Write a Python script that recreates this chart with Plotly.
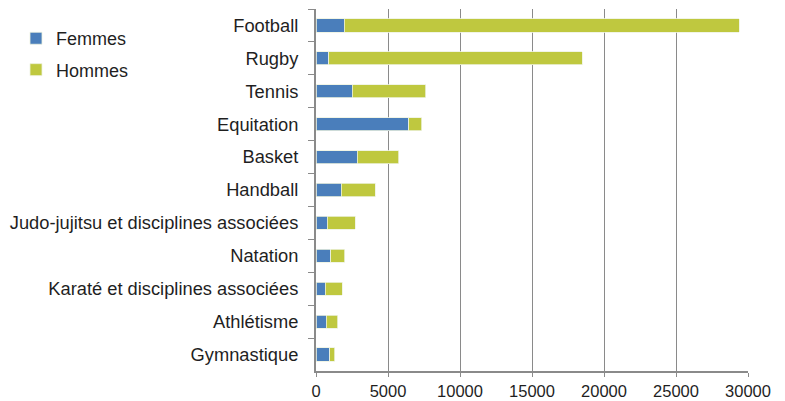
import plotly.graph_objects as go

sports = ["Football", "Rugby", "Tennis", "Equitation", "Basket", "Handball",
          "Judo-jujitsu et disciplines associées", "Natation",
          "Karaté et disciplines associées", "Athlétisme", "Gymnastique"]
femmes = [1950, 900, 2500, 6450, 2850, 1750, 770, 1040, 630, 700, 970]
hommes = [27450, 17580, 5130, 900, 2890, 2350, 1940, 970, 1200, 810, 320]
x_ticks = [0, 5000, 10000, 15000, 20000, 25000, 30000]

FONT = "Liberation Sans, Arial, sans-serif"
TXT = "#1f1f1f"

fig = go.Figure()
fig.add_trace(go.Bar(y=sports, x=femmes, name="Femmes", orientation="h",
                     marker=dict(color="#4a7ebb", line=dict(color="#eef2e0", width=0.8)),
                     legendgroup="f"))
fig.add_trace(go.Bar(y=sports, x=hommes, name="Hommes", orientation="h",
                     marker=dict(color="#bfc83f", line=dict(color="#eef2e0", width=0.8)),
                     legendgroup="h"))

fig.update_layout(
    width=785, height=401,
    barmode="stack", bargap=0.6,
    paper_bgcolor="white", plot_bgcolor="white",
    margin=dict(l=316, r=37, t=9, b=30, autoexpand=False),
    font=dict(family=FONT, size=18, color=TXT),
    legend=dict(xref="container", yref="container",
                x=0.0204, xanchor="left", y=0.95, yanchor="top",
                traceorder="grouped", tracegroupgap=5,
                font=dict(family=FONT, size=18, color=TXT),
                itemwidth=30, bgcolor="rgba(0,0,0,0)"),
    xaxis=dict(range=[0, 30000], tickvals=x_ticks, ticktext=[str(v) for v in x_ticks],
               showgrid=True, gridcolor="#8a8a8a", gridwidth=1.3,
               showline=True, linecolor="#8a8a8a", linewidth=1.5,
               ticks="outside", ticklen=4, tickcolor="#8a8a8a",
               tickfont=dict(family=FONT, size=16.5, color=TXT),
               ticklabelstandoff=0, automargin=False,
               zeroline=False, fixedrange=True),
    yaxis=dict(categoryorder="array", categoryarray=sports, autorange="reversed",
               showline=True, linecolor="#8a8a8a", linewidth=2,
               ticks="outside", ticklen=6, tickcolor="#8a8a8a", tickson="boundaries",
               tickfont=dict(family=FONT, size=18.3, color=TXT),
               ticklabelstandoff=12, showgrid=False, automargin=False,
               fixedrange=True),
)

fig.write_html("out.html", config={"displayModeBar": False},
               post_script="document.body.style.margin='0';")
